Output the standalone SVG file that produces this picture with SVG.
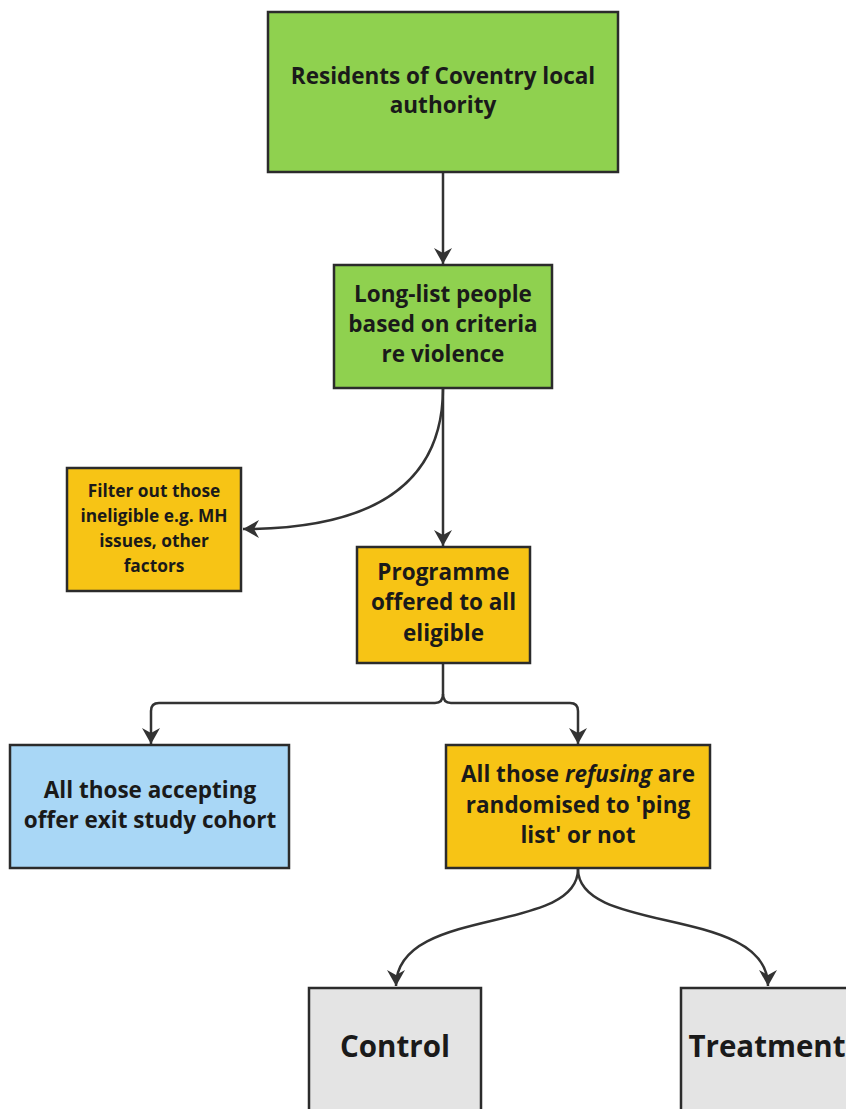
<svg xmlns="http://www.w3.org/2000/svg" width="846" height="1109" viewBox="0 0 846 1109">
  <defs>
    <marker id="arrow" markerUnits="userSpaceOnUse" viewBox="-17 -10 19 20" refX="0" refY="0" markerWidth="19" markerHeight="20" orient="auto">
      <path d="M0,0 L-16,-9 L-11,0 L-16,9 Z" fill="#333333"/>
    </marker>
    <style>
      .box { stroke: #2b2b2b; stroke-width: 2.5; }
      .green { fill: #8fd14f; }
      .yellow { fill: #f7c415; }
      .blue { fill: #a9d7f6; }
      .grey { fill: #e4e4e4; }
      .label { font-family: "Open Sans", "Liberation Sans", sans-serif; font-weight: 700; fill: #1a1a1a; text-anchor: middle; }
      .main { font-size: 22.5px; }
      .small { font-size: 17.3px; }
      .big { font-size: 29.5px; }
      .edge { fill: none; stroke: #333333; stroke-width: 2.5; }
    </style>
  </defs>
  <rect width="846" height="1109" fill="#ffffff"/>

  <!-- connectors -->
  <g id="connectors">
    <path class="edge" d="M443,172 L443,264" marker-end="url(#arrow)"/>
    <path class="edge" d="M443,388 L443,546" marker-end="url(#arrow)"/>
    <path class="edge" d="M443,388 C443,480 380,529 243,529" marker-end="url(#arrow)"/>
    <path class="edge" d="M443,663 L443,694 Q443,703 435,703 L159,703 Q151,703 151,711 L151,744" marker-end="url(#arrow)"/>
    <path class="edge" d="M443,694 Q443,703 451,703 L570,703 Q578,703 578,711 L578,744" marker-end="url(#arrow)"/>
    <path class="edge" d="M578,869 C578,935 396,905 396,986" marker-end="url(#arrow)"/>
    <path class="edge" d="M578,869 C578,935 768,905 768,986" marker-end="url(#arrow)"/>
  </g>

  <g id="node-residents">
    <rect class="box green" x="268" y="12" width="350" height="160"/>
    <text class="label main" x="443" y="84">Residents of Coventry local</text>
    <text class="label main" x="443" y="113">authority</text>
  </g>

  <g id="node-longlist">
    <rect class="box green" x="334" y="265" width="218" height="123"/>
    <text class="label main" x="443" y="302">Long-list people</text>
    <text class="label main" x="443" y="332">based on criteria</text>
    <text class="label main" x="443" y="362">re violence</text>
  </g>

  <g id="node-filter">
    <rect class="box yellow" x="67" y="468" width="174" height="123"/>
    <text class="label small" x="154" y="497">Filter out those</text>
    <text class="label small" x="154" y="522">ineligible e.g. MH</text>
    <text class="label small" x="154" y="547">issues, other</text>
    <text class="label small" x="154" y="572">factors</text>
  </g>

  <g id="node-programme">
    <rect class="box yellow" x="357" y="547" width="173" height="116"/>
    <text class="label main" x="443.5" y="580">Programme</text>
    <text class="label main" x="443.5" y="610">offered to all</text>
    <text class="label main" x="443.5" y="641">eligible</text>
  </g>

  <g id="node-accepting">
    <rect class="box blue" x="10" y="745" width="279" height="123"/>
    <text class="label main" x="150" y="798">All those accepting</text>
    <text class="label main" x="150" y="828">offer exit study cohort</text>
  </g>

  <g id="node-refusing">
    <rect class="box yellow" x="446" y="745" width="264" height="123"/>
    <text class="label main" x="578" y="782">All those <tspan font-style="italic">refusing</tspan> are</text>
    <text class="label main" x="578" y="813">randomised to 'ping</text>
    <text class="label main" x="578" y="843">list' or not</text>
  </g>

  <g id="node-control">
    <rect class="box grey" x="309" y="988" width="172" height="130"/>
    <text class="label big" x="395" y="1057">Control</text>
  </g>

  <g id="node-treatment">
    <rect class="box grey" x="681" y="988" width="172" height="130"/>
    <text class="label big" x="767" y="1057">Treatment</text>
  </g>
</svg>
